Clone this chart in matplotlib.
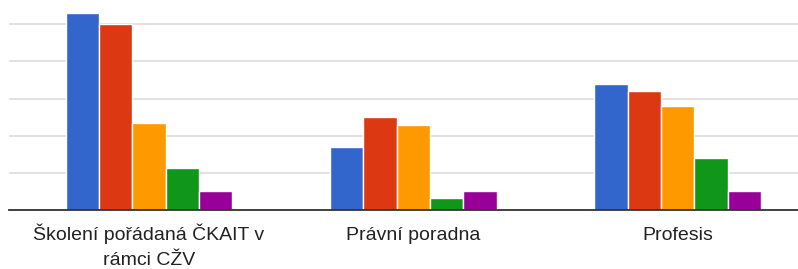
import numpy as np
import matplotlib.pyplot as plt

# categories and series (grid step = 10)
categories = ["Školení pořádaná ČKAIT v\nrámci CŽV", "Právní poradna", "Profesis"]
series_a = [53, 17, 34]
series_b = [50, 25, 32]
series_c = [23.5, 23, 28]
series_d = [11.5, 3.2, 14]
series_e = [5.2, 5.2, 5.2]
colors = ["#3366cc", "#dc3912", "#ff9900", "#109618", "#990099"]

fig = plt.figure(figsize=(7.98, 2.69), dpi=100)
ax = fig.add_axes([9 / 798, 0.218, 1 - 9 / 798, 0.782])

x = np.arange(len(categories))
width = 0.126
all_series = [series_a, series_b, series_c, series_d, series_e]
for i, vals in enumerate(all_series):
    offset = (i - 2) * width
    ax.bar(x + offset, vals, width, color=colors[i], edgecolor="white",
           linewidth=1.0, zorder=3)

ax.set_xlim(-0.529, 2.455)
ax.set_ylim(0, 56.5)
ax.set_yticks([10, 20, 30, 40, 50])
ax.yaxis.grid(True, color="#dcdcdc", linewidth=1.2, zorder=0)
ax.tick_params(axis="y", length=0, labelleft=False)
ax.set_xticks(x)
ax.set_xticklabels([])
ax.tick_params(axis="x", length=0)

# category labels, each line baseline aligned like the original
trans = ax.get_xaxis_transform()
axes_h = 0.782 * 269
for xi, label in zip(x, categories):
    for k, line in enumerate(label.split("\n")):
        y = -(30.0 + k * 25.0) / axes_h
        ax.text(xi, y, line, transform=trans, ha="center", va="baseline",
                fontsize=14, color="#222222", family="Liberation Sans")

for side in ["top", "right", "left"]:
    ax.spines[side].set_visible(False)
ax.spines["bottom"].set_color("#333333")
ax.spines["bottom"].set_linewidth(1.3)
ax.spines["bottom"].set_zorder(4)

fig.savefig("out.png", dpi=100)
